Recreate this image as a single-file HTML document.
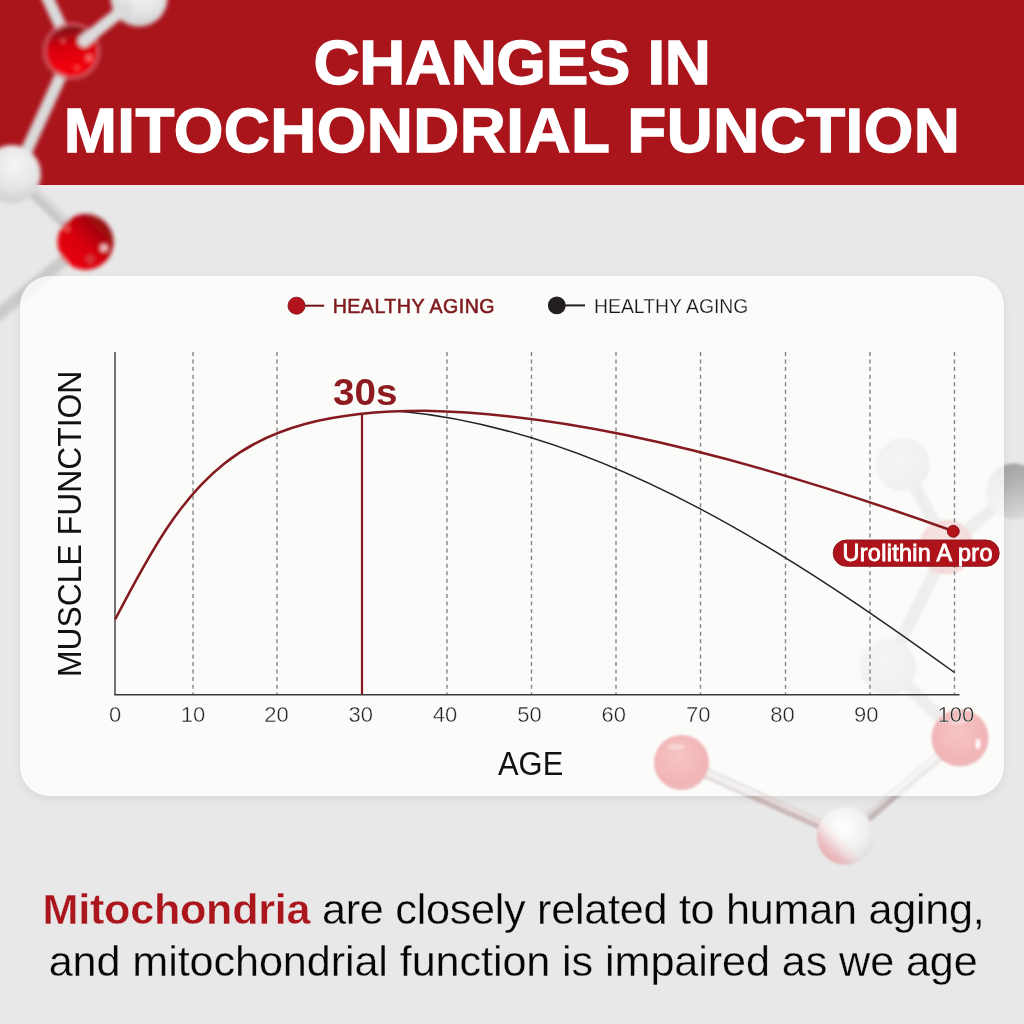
<!DOCTYPE html>
<html><head><meta charset="utf-8">
<style>
html,body{margin:0;padding:0;width:1024px;height:1024px;overflow:hidden;background:#e8e8e8;}
body{position:relative;font-family:"Liberation Sans",sans-serif;}
.hdr{position:absolute;left:0;top:0;width:1024px;height:185px;background:#aa141b;}
.t{position:absolute;left:0;width:1024px;text-align:center;color:#fff;font-weight:bold;white-space:nowrap;line-height:1;font-size:63.8px;-webkit-text-stroke:1.3px #fff;}
.card{position:absolute;left:20px;top:276px;width:984px;height:520px;background:rgba(255,255,253,0.8);border-radius:30px;box-shadow:0 3px 10px rgba(0,0,0,0.07);}
svg{position:absolute;left:0;top:0;}
.lbl{position:absolute;white-space:nowrap;line-height:1;}
.tk{position:absolute;top:704.8px;width:80px;text-align:center;font-size:22px;line-height:20px;color:#222;-webkit-text-stroke:0.42px #fafaf9;}
.bt{position:absolute;width:1024px;text-align:center;white-space:nowrap;color:#050505;line-height:1;font-size:43.2px;-webkit-text-stroke:0.3px #e8e8e8;}
</style></head><body>
<div class="hdr"></div>
<div style="position:absolute;left:0;top:185px;width:1024px;height:3px;background:linear-gradient(#fbe6e7,#e9e9e9);"></div>
<svg width="1024" height="1024" style="position:absolute;left:0;top:0;">
<defs>
<linearGradient id="gr" x1="0.15" y1="0.85" x2="0.85" y2="0.15">
 <stop offset="0" stop-color="#e8000c"/><stop offset="0.45" stop-color="#d8000e"/><stop offset="1" stop-color="#8e0a12"/>
</linearGradient>
<linearGradient id="gr1" x1="0.3" y1="0.8" x2="0.2" y2="0.1">
 <stop offset="0" stop-color="#f00010"/><stop offset="0.55" stop-color="#d4000e"/><stop offset="1" stop-color="#861016"/>
</linearGradient>
<radialGradient id="gw" cx="0.55" cy="0.35" r="0.75">
 <stop offset="0" stop-color="#f6f6f6"/><stop offset="0.55" stop-color="#e4e4e4"/><stop offset="1" stop-color="#c6c6c6"/>
</radialGradient>
<filter id="bl" x="-20%" y="-20%" width="140%" height="140%"><feGaussianBlur stdDeviation="2"/></filter>
</defs>
<g filter="url(#bl)">
 <g stroke="#dadada" stroke-width="12" stroke-linecap="round">
  <line x1="72" y1="51" x2="43" y2="-12"/>
  <line x1="72" y1="51" x2="16" y2="174"/>
  <line x1="14" y1="174" x2="85.5" y2="242" stroke="#c6c6c6"/>
  <line x1="85.5" y1="242" x2="-10" y2="322" stroke="#cacaca"/>
  <line x1="16" y1="171" x2="85.5" y2="238" stroke="#d8d8d8" stroke-width="5"/>
 </g>
 <circle cx="139" cy="-2" r="28.5" fill="url(#gw)"/>
 <circle cx="12" cy="174" r="29" fill="url(#gw)"/>
 <circle cx="71.6" cy="51" r="28.5" fill="#c23a42" opacity="0.6"/>
 <circle cx="71.6" cy="51" r="27.6" fill="none" stroke="#e07880" stroke-width="2" opacity="0.75"/>
 <circle cx="71.6" cy="51" r="25.5" fill="url(#gr1)"/>
 <circle cx="63" cy="41" r="2" fill="#ff6a6a" opacity="0.8"/>
 <circle cx="89" cy="58" r="3" fill="#ff7a7a" opacity="0.9"/>
 <circle cx="77" cy="68" r="2.6" fill="#ff5a5a" opacity="0.7"/>
 <line x1="84" y1="41" x2="125" y2="8" stroke="#dcdcdc" stroke-width="12" stroke-linecap="round"/>
 <circle cx="85.5" cy="242" r="28" fill="url(#gr)"/>
 <circle cx="104" cy="248" r="3.2" fill="#ffd0d0"/>
 <circle cx="67" cy="229" r="2.4" fill="#ff7070" opacity="0.8"/>
 <circle cx="90" cy="259" r="4" fill="#d07070" opacity="0.5"/>
</g>
</svg>
<div class="t" style="top:31.3px;letter-spacing:-0.35px;">CHANGES IN</div>
<div class="t" style="top:98.8px;letter-spacing:0.42px;">MITOCHONDRIAL FUNCTION</div>
<svg width="1024" height="1024" style="position:absolute;left:0;top:0;">
<defs>
<radialGradient id="rg" cx="0.4" cy="0.4" r="0.7">
 <stop offset="0" stop-color="#cacaca"/><stop offset="0.6" stop-color="#bababa"/><stop offset="1" stop-color="#a8a8a8"/>
</radialGradient>
<linearGradient id="rgc" x1="0.3" y1="0" x2="0.5" y2="1">
 <stop offset="0" stop-color="#a2a2a2"/><stop offset="0.45" stop-color="#b8b8b8"/><stop offset="1" stop-color="#d8d8d8"/>
</linearGradient>
<radialGradient id="rr" cx="0.45" cy="0.45" r="0.6">
 <stop offset="0" stop-color="#d88088"/><stop offset="0.75" stop-color="#c85058"/><stop offset="1" stop-color="#b8303a"/>
</radialGradient>
<radialGradient id="pw" cx="0.62" cy="0.35" r="0.8">
 <stop offset="0" stop-color="#ffffff"/><stop offset="0.45" stop-color="#f2f0f0"/><stop offset="0.75" stop-color="#e6d0d2"/><stop offset="1" stop-color="#e8a8ac"/>
</radialGradient>
<linearGradient id="stk" x1="0" y1="0" x2="0" y2="1">
 <stop offset="0" stop-color="#d9c6c6"/><stop offset="1" stop-color="#c9b4b4"/>
</linearGradient>
<radialGradient id="gG" cx="0.45" cy="0.35" r="0.75">
 <stop offset="0" stop-color="#ffffff"/><stop offset="0.55" stop-color="#f0f0f0"/><stop offset="1" stop-color="#d6d6d6"/>
</radialGradient>
<linearGradient id="gP" x1="0" y1="1" x2="0.7" y2="0.3">
 <stop offset="0" stop-color="#e8898f" stop-opacity="0.9"/><stop offset="0.4" stop-color="#eca0a4" stop-opacity="0.5"/><stop offset="0.75" stop-color="#ffffff" stop-opacity="0"/>
</linearGradient>
<filter id="bl2" x="-30%" y="-30%" width="160%" height="160%"><feGaussianBlur stdDeviation="1.4"/></filter>
<filter id="bl3" x="-30%" y="-30%" width="160%" height="160%"><feGaussianBlur stdDeviation="0.8"/></filter>
</defs>
<g filter="url(#bl2)">
 <g stroke="#a8a8a8" stroke-width="12" stroke-linecap="round">
  <line x1="903" y1="464" x2="947" y2="547"/>
  <line x1="947" y1="547" x2="1014" y2="491"/>
  <line x1="947" y1="547" x2="888" y2="667"/>
  <line x1="888" y1="667" x2="961" y2="738"/>
 </g>
 <circle cx="903" cy="464.5" r="26.5" fill="url(#rg)"/>
 <circle cx="1014" cy="491.5" r="28" fill="url(#rgc)"/>
 <circle cx="888" cy="667" r="28" fill="url(#rg)"/>
</g>
<circle cx="946.3" cy="547" r="27.2" fill="url(#rr)" filter="url(#bl3)"/>
<g filter="url(#bl3)">
 <line x1="681" y1="762" x2="846" y2="836" stroke="#cdb9ba" stroke-width="10.5" stroke-linecap="round"/>
 <line x1="683" y1="760" x2="846" y2="833.5" stroke="#e6dcdc" stroke-width="5" stroke-linecap="round"/>
 <line x1="960" y1="738" x2="846" y2="836" stroke="#c4b8b8" stroke-width="10" stroke-linecap="round"/>
 <line x1="958" y1="736" x2="844" y2="834" stroke="#dedada" stroke-width="4.5" stroke-linecap="round"/>
 <circle cx="845.5" cy="836" r="28.6" fill="url(#gG)"/>
 <circle cx="845.5" cy="836" r="28.6" fill="url(#gP)"/>
</g>
</svg>
<div class="card"></div>
<svg width="1024" height="1024" style="position:absolute;left:0;top:0;">
<defs>
<radialGradient id="fp" cx="0.45" cy="0.4" r="0.7">
 <stop offset="0" stop-color="#f6c4c4"/><stop offset="0.7" stop-color="#f2b4b6"/><stop offset="1" stop-color="#e8c0c2"/>
</radialGradient>
<filter id="bl4" x="-30%" y="-30%" width="160%" height="160%"><feGaussianBlur stdDeviation="0.9"/></filter>
</defs>
<clipPath id="cardclip"><rect x="20" y="276" width="984" height="520" rx="30"/></clipPath>
<g clip-path="url(#cardclip)"><g filter="url(#bl4)">
 <line x1="681" y1="762" x2="846" y2="836" stroke="#e2dede" stroke-width="10.5"/>
 <line x1="681" y1="761" x2="846" y2="835" stroke="#f3f1f1" stroke-width="5.5"/>
 <line x1="960" y1="738" x2="846" y2="836" stroke="#ebe9e9" stroke-width="10"/>
 <line x1="959" y1="737" x2="845" y2="835" stroke="#f6f4f4" stroke-width="5"/>
</g></g>
<g filter="url(#bl4)">
 <circle cx="681.5" cy="762.5" r="27.5" fill="url(#fp)"/>
 <ellipse cx="676" cy="747" rx="9" ry="3" fill="#ffffff" opacity="0.35"/>
 <circle cx="960" cy="738" r="28.5" fill="url(#fp)"/>
 <ellipse cx="978" cy="744" rx="2.5" ry="5" fill="#ffffff" opacity="0.9"/>
 <ellipse cx="958" cy="722" rx="8" ry="3" fill="#ffffff" opacity="0.35"/>
</g>
</svg>
<svg width="1024" height="1024" viewBox="0 0 1024 1024">
  <g stroke="#858585" stroke-width="1.4" stroke-dasharray="4,3.56">
<line x1="193" y1="352" x2="193" y2="694"/>
<line x1="277" y1="352" x2="277" y2="694"/>
<line x1="447" y1="352" x2="447" y2="694"/>
<line x1="531.5" y1="352" x2="531.5" y2="694"/>
<line x1="616" y1="352" x2="616" y2="694"/>
<line x1="700.5" y1="352" x2="700.5" y2="694"/>
<line x1="785.5" y1="352" x2="785.5" y2="694"/>
<line x1="870" y1="352" x2="870" y2="694"/>
<line x1="954.5" y1="352" x2="954.5" y2="694"/>
  </g>
  <line x1="115" y1="352" x2="115" y2="695" stroke="#3a3a3a" stroke-width="1.4"/>
  <line x1="114.3" y1="694.7" x2="959.5" y2="694.7" stroke="#3a3a3a" stroke-width="1.4"/>
  <path d="M400,411.2 C607.5,430.3 800.8,561.6 954.5,672.5" fill="none" stroke="#222" stroke-width="1.5"/>
  <path d="M115.1,619.5 C186.9,481.6 231.6,410.8 424.9,410.8 C526.4,412.8 679.5,432.8 953,531" fill="none" stroke="#841a1f" stroke-width="2.5"/>
  <line x1="362" y1="413" x2="362" y2="694" stroke="#841a1f" stroke-width="2.2"/>
  <circle cx="953.3" cy="531.3" r="6" fill="#b3131b" stroke="#7a1016" stroke-width="0.8"/>
  <circle cx="296.5" cy="305.7" r="8.5" fill="#b3131b" stroke="#7a1016" stroke-width="0.9"/>
  <line x1="305" y1="305.7" x2="324.2" y2="305.7" stroke="#6f1217" stroke-width="2"/>
  <circle cx="556.8" cy="305.4" r="8.9" fill="#231f20"/>
  <line x1="560" y1="305.4" x2="585" y2="305.4" stroke="#231f20" stroke-width="2"/>
  <rect x="833.2" y="540" width="166" height="26.3" rx="13.1" fill="#ae131b" stroke="#86121a" stroke-width="0.9"/>
</svg>
<div class="tk" style="left:75px;">0</div>
<div class="tk" style="left:153px;">10</div>
<div class="tk" style="left:236.39999999999998px;">20</div>
<div class="tk" style="left:320.7px;">30</div>
<div class="tk" style="left:405px;">40</div>
<div class="tk" style="left:489.5px;">50</div>
<div class="tk" style="left:573.8px;">60</div>
<div class="tk" style="left:658.2px;">70</div>
<div class="tk" style="left:742.4px;">80</div>
<div class="tk" style="left:826.3px;">90</div>
<div class="tk" style="left:915.8px;">100</div>
<div class="lbl" style="left:332.7px;top:297px;font-size:19.6px;letter-spacing:0.48px;color:#7e1a1f;-webkit-text-stroke:0.55px #7e1a1f;">HEALTHY AGING</div>
<div class="lbl" style="left:594px;top:297.2px;font-size:19.4px;color:#1a1617;-webkit-text-stroke:0.25px #fafaf9;">HEALTHY AGING</div>
<div class="lbl" style="left:333px;top:374px;font-size:37.5px;color:#8c1a1f;font-weight:bold;transform-origin:0 0;transform:scaleX(1.03);">30s</div>
<div class="lbl" style="left:842.6px;top:542px;font-size:23.4px;letter-spacing:0.3px;color:#fff;-webkit-text-stroke:0.85px #fff;">Urolithin A pro</div>
<div class="lbl" style="left:498px;top:746.6px;font-size:33.6px;color:#111;transform-origin:0 0;transform:scaleX(0.92);">AGE</div>
<div class="lbl" style="left:52px;top:677px;font-size:34px;color:#111;transform-origin:0 0;transform:rotate(-90deg) scaleX(0.9375);">MUSCLE FUNCTION</div>
<div class="bt" style="left:1.5px;top:887.9px;letter-spacing:-0.28px;"><span style="color:#ab161d;font-weight:bold;-webkit-text-stroke:0.4px #e8e8e8;">Mitochondria</span> are closely related to human aging,</div>
<div class="bt" style="left:1.2px;top:939.6px;letter-spacing:-0.1px;">and mitochondrial function is impaired as we age</div>
</body></html>
